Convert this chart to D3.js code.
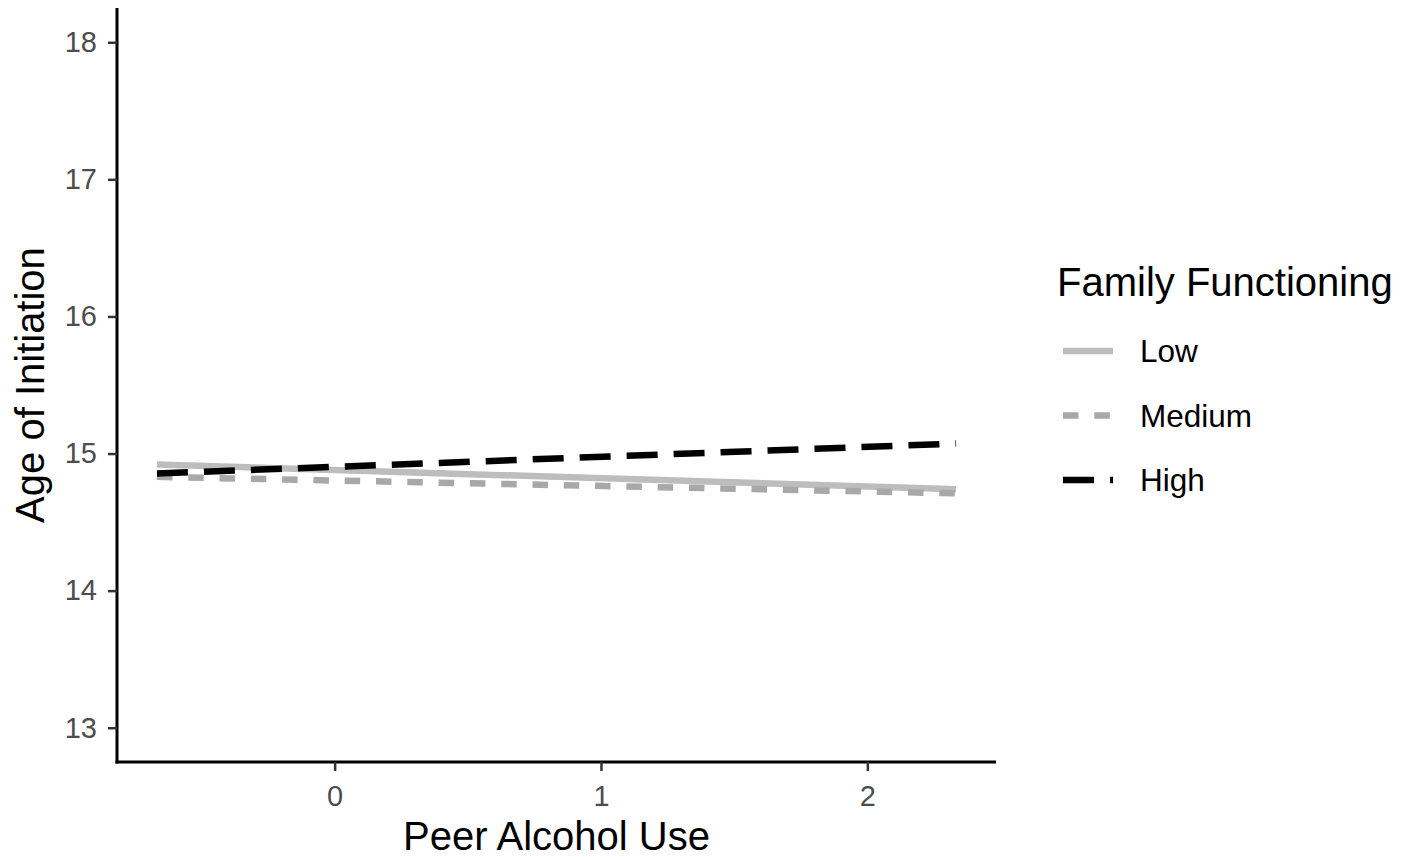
<!DOCTYPE html>
<html>
<head>
<meta charset="utf-8">
<script src="https://cdn.jsdelivr.net/npm/d3@7"></script>
<style>
  html, body { margin: 0; padding: 0; background: #fff; overflow: hidden; }
  svg { display: block; }
  svg text { font-family: "Liberation Sans", Arial, Helvetica, sans-serif; }
</style>
</head>
<body>
<div id="chart"></div>
<script>
// predicted age of initiation at the two ends of peer alcohol use
var peerUse = [-0.667, 2.333];
var lowValues = [14.92, 14.74];
var mediumValues = [14.83, 14.71];
var highValues = [14.855, 15.073];
var groupNames = ["Low", "Medium", "High"];
var xTicks = [0, 1, 2];
var yTicks = [13, 14, 15, 16, 17, 18];

var width = 1408, height = 857;
var svg = d3.select("#chart").append("svg")
  .attr("width", width).attr("height", height);
svg.append("rect").attr("width", width).attr("height", height).attr("fill", "#fff");

// panel area (named so they don't clash with window.top)
var panelLeft = 117, panelRight = 996, panelTop = 8, panelBottom = 762;

var x = d3.scaleLinear().domain([-0.817, 2.483]).range([panelLeft, panelRight]);
var y = d3.scaleLinear().domain([12.75, 18.25]).range([panelBottom, panelTop]);

// series styling (colour, dash)
var groups = [
  { name: groupNames[0], values: lowValues, color: "#bdbdbd", dash: null },
  { name: groupNames[1], values: mediumValues, color: "#a8a8a8", dash: "15.5,15.8" },
  { name: groupNames[2], values: highValues, color: "#000000", dash: "31,16" }
];

var line = d3.line()
  .x(function (d) { return x(d[0]); })
  .y(function (d) { return y(d[1]); });

groups.forEach(function (g) {
  var pts = peerUse.map(function (p, i) { return [p, g.values[i]]; });
  svg.append("path")
    .attr("d", line(pts))
    .attr("fill", "none")
    .attr("stroke", g.color)
    .attr("stroke-width", 6.5)
    .attr("stroke-dasharray", g.dash);
});

// axes
var xAxis = svg.append("g")
  .attr("transform", "translate(0," + panelBottom + ")")
  .call(d3.axisBottom(x).tickValues(xTicks).tickSize(9).tickPadding(14).tickFormat(d3.format("d")));
var yAxis = svg.append("g")
  .attr("transform", "translate(" + panelLeft + ",0)")
  .call(d3.axisLeft(y).tickValues(yTicks).tickSize(9).tickPadding(11).tickFormat(d3.format("d")));

[xAxis, yAxis].forEach(function (a) {
  a.select(".domain").attr("stroke", "#000").attr("stroke-width", 3);
  a.selectAll(".tick line").attr("stroke", "#333").attr("stroke-width", 2.5);
  a.selectAll(".tick text").attr("fill", "#4d4d4d").style("font-size", "29px");
});
// draw axis lines as plain segments so they meet at the corner
xAxis.select(".domain").attr("d", "M" + (panelLeft - 1.5) + ",0H" + panelRight);
yAxis.select(".domain").attr("d", "M0," + panelTop + "V" + (panelBottom + 1.5));

// axis titles
svg.append("text")
  .attr("x", (panelLeft + panelRight) / 2).attr("y", 850)
  .attr("text-anchor", "middle")
  .style("font-size", "40px")
  .text("Peer Alcohol Use");

svg.append("text")
  .attr("transform", "translate(44," + (panelTop + panelBottom) / 2 + ") rotate(-90)")
  .attr("text-anchor", "middle")
  .style("font-size", "40px")
  .text("Age of Initiation");

// legend
var legend = svg.append("g");
legend.append("text")
  .attr("x", 1057).attr("y", 296)
  .style("font-size", "40px")
  .text("Family Functioning");

var keyY = d3.scalePoint().domain(groupNames).range([351, 480]);
groups.forEach(function (g) {
  legend.append("line")
    .attr("x1", 1063).attr("x2", 1113)
    .attr("y1", keyY(g.name)).attr("y2", keyY(g.name))
    .attr("stroke", g.color)
    .attr("stroke-width", 6.5)
    .attr("stroke-dasharray", g.dash);
  legend.append("text")
    .attr("x", 1140).attr("y", keyY(g.name) + 11)
    .style("font-size", "31.5px")
    .text(g.name);
});
</script>
</body>
</html>
